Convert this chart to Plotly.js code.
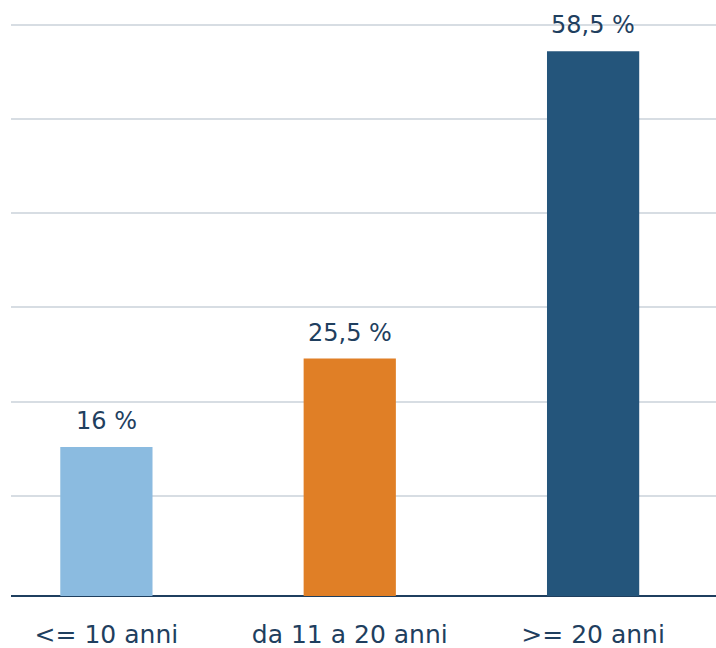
<!DOCTYPE html>
<html>
<head>
<meta charset="utf-8">
<script src="https://cdn.plot.ly/plotly-3.0.1.min.js"></script>
<style>html,body{margin:0;padding:0;background:#fff;}#chart{width:716px;height:648px;}</style>
</head>
<body>
<div id="chart"></div>
<script>
const categories = ["<= 10 anni", "da 11 a 20 anni", ">= 20 anni"];
const values = [16, 25.5, 58.5];
const valueLabels = ["16 %", "25,5 %", "58,5 %"];
const barColors = ["#8bbbe0", "#e07f26", "#24557b"];
const gridValues = [10.78, 20.87, 31.0, 41.15, 51.23, 61.32];

const textColor = "#1f3f5f";

const trace = {
  type: "bar",
  x: [0, 1, 2],
  y: values,
  width: 0.379,
  marker: {color: barColors, line: {width: 0}},
  hoverinfo: "skip"
};

const annotations = values.map((v, i) => ({
  x: i, y: v, xref: "x", yref: "y",
  text: valueLabels[i], showarrow: false,
  yanchor: "bottom", yshift: 10,
  font: {family: "DejaVu Sans", size: 24, color: textColor}
}));

const layout = {
  width: 716, height: 648,
  margin: {l: 11, r: 0, t: 0, b: 51.5},
  paper_bgcolor: "#fff", plot_bgcolor: "#fff",
  showlegend: false,
  font: {family: "DejaVu Sans", color: textColor},
  xaxis: {
    range: [-0.392, 2.505],
    tickvals: [0, 1, 2],
    ticktext: categories,
    ticks: "outside", ticklen: 16, tickcolor: "rgba(0,0,0,0)",
    tickfont: {family: "DejaVu Sans", size: 25, color: textColor},
    showgrid: false, zeroline: false, showline: false,
    fixedrange: true
  },
  yaxis: {
    range: [0, 64.0],
    tickvals: gridValues,
    showticklabels: false,
    showgrid: true, gridcolor: "#d7dde3", gridwidth: 2,
    zeroline: true, zerolinecolor: "#1f3f5f", zerolinewidth: 2,
    showline: false, fixedrange: true
  },
  annotations: annotations
};

Plotly.newPlot("chart", [trace], layout, {displayModeBar: false, staticPlot: true});
</script>
</body>
</html>
